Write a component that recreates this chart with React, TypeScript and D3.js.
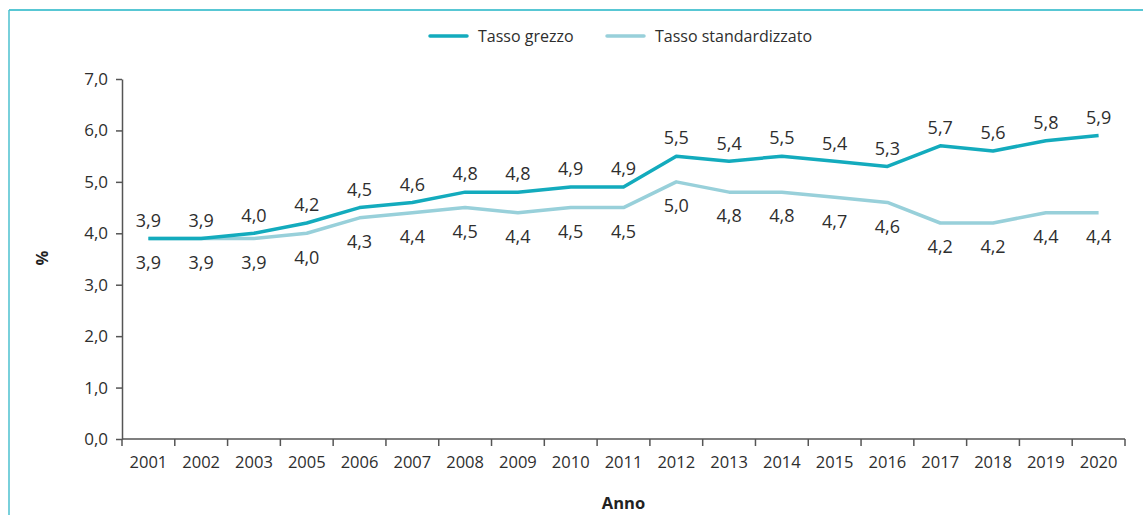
import React, { useEffect, useRef } from "react";
import * as d3 from "d3";

const years = ["2001", "2002", "2003", "2005", "2006", "2007", "2008", "2009", "2010", "2011", "2012", "2013", "2014", "2015", "2016", "2017", "2018", "2019", "2020"];
const tassoGrezzo = [3.9, 3.9, 4.0, 4.2, 4.5, 4.6, 4.8, 4.8, 4.9, 4.9, 5.5, 5.4, 5.5, 5.4, 5.3, 5.7, 5.6, 5.8, 5.9];
const tassoStandard = [3.9, 3.9, 3.9, 4.0, 4.3, 4.4, 4.5, 4.4, 4.5, 4.5, 5.0, 4.8, 4.8, 4.7, 4.6, 4.2, 4.2, 4.4, 4.4];
const yTicks = [0, 1, 2, 3, 4, 5, 6, 7];

const colGrezzo = "#13abbd";
const colStandard = "#98d0da";
const textCol = "#2e2e2e";
const font = "'Open Sans', sans-serif";

const fmt = (v: number) => v.toFixed(1).replace(".", ",");

export default function App() {
    const ref = useRef<SVGSVGElement>(null);

    useEffect(() => {
        const W = 1143, H = 515;
        const margin = { top: 79, right: 18, bottom: 76, left: 122 };
        const svg = d3.select(ref.current);
        svg.selectAll("*").remove();

        // frame (top + left only)
        svg.append("line").attr("x1", 9).attr("x2", W).attr("y1", 10).attr("y2", 10)
            .attr("stroke", "#20b4c6").attr("stroke-width", 1.5);
        svg.append("line").attr("x1", 9).attr("x2", 9).attr("y1", 10).attr("y2", H)
            .attr("stroke", "#4cc0cf").attr("stroke-width", 1.5);

        const x = d3.scaleBand<string>()
            .domain(years)
            .range([margin.left, W - margin.right])
            .padding(0);
        const y = d3.scaleLinear()
            .domain([0, 7])
            .range([H - margin.bottom, margin.top]);

        // Y axis
        const yAxis = svg.append("g")
            .attr("transform", "translate(" + margin.left + ",0)")
            .call(d3.axisLeft(y).tickValues(yTicks).tickFormat((d: any) => fmt(+d)).tickSize(6).tickSizeOuter(0));
        yAxis.selectAll("path, line").attr("stroke", "#555").attr("stroke-width", 1.5);
        yAxis.selectAll("text").attr("font-family", font).attr("font-size", 17)
            .attr("fill", textCol).attr("x", -14);

        // X axis: ticks at band boundaries
        const y0 = y(0);
        const xAxis = svg.append("g");
        xAxis.append("line").attr("x1", margin.left).attr("x2", W - margin.right)
            .attr("y1", y0).attr("y2", y0).attr("stroke", "#555").attr("stroke-width", 1.5);
        const bounds = years.map((yr) => x(yr) as number).concat([x(years[years.length - 1])! + x.bandwidth()]);
        xAxis.selectAll("line.tick").data(bounds).enter().append("line")
            .attr("class", "tick")
            .attr("x1", (d) => d).attr("x2", (d) => d)
            .attr("y1", y0).attr("y2", y0 + 7)
            .attr("stroke", "#555").attr("stroke-width", 1.5);
        xAxis.selectAll("text").data(years).enter().append("text")
            .attr("x", (d) => x(d)! + x.bandwidth() / 2)
            .attr("y", y0 + 29)
            .attr("text-anchor", "middle")
            .attr("font-family", font).attr("font-size", 16.5).attr("fill", textCol)
            .text((d) => d);

        // axis titles
        svg.append("text").attr("x", (margin.left + W - margin.right) / 2).attr("y", 509)
            .attr("text-anchor", "middle").attr("font-family", font).attr("font-weight", "bold")
            .attr("font-size", 16.5).attr("fill", "#222").text("Anno");
        svg.append("text").attr("transform", "translate(48,258) rotate(-90)")
            .attr("text-anchor", "middle").attr("font-family", font).attr("font-weight", "bold")
            .attr("font-size", 16.5).attr("fill", "#222").text("%");

        // lines
        const line = d3.line<number>()
            .x((_, i) => x(years[i])! + x.bandwidth() / 2)
            .y((d) => y(d));
        svg.append("path").datum(tassoStandard).attr("d", line).attr("fill", "none")
            .attr("stroke", colStandard).attr("stroke-width", 3.5).attr("stroke-linejoin", "round");
        svg.append("path").datum(tassoGrezzo).attr("d", line).attr("fill", "none")
            .attr("stroke", colGrezzo).attr("stroke-width", 3.5).attr("stroke-linejoin", "round");

        // data labels
        svg.selectAll("text.lab-g").data(tassoGrezzo).enter().append("text")
            .attr("class", "lab-g")
            .attr("x", (_, i) => x(years[i])! + x.bandwidth() / 2)
            .attr("y", (d) => y(d) - 18)
            .attr("dy", "0.35em")
            .attr("text-anchor", "middle").attr("font-family", font).attr("font-size", 18)
            .attr("fill", textCol).text((d) => fmt(d));
        svg.selectAll("text.lab-s").data(tassoStandard).enter().append("text")
            .attr("class", "lab-s")
            .attr("x", (_, i) => x(years[i])! + x.bandwidth() / 2)
            .attr("y", (d) => y(d) + 24)
            .attr("dy", "0.35em")
            .attr("text-anchor", "middle").attr("font-family", font).attr("font-size", 18)
            .attr("fill", textCol).text((d) => fmt(d));

        // legend
        const legend = [
            { name: "Tasso grezzo", color: colGrezzo, x: 430 },
            { name: "Tasso standardizzato", color: colStandard, x: 607 },
        ];
        const lg = svg.selectAll("g.legend").data(legend).enter().append("g")
            .attr("class", "legend")
            .attr("transform", (d) => "translate(" + d.x + ",36)");
        lg.append("line").attr("x1", 0).attr("x2", 37).attr("y1", 0).attr("y2", 0)
            .attr("stroke", (d) => d.color).attr("stroke-width", 3.5).attr("stroke-linecap", "round");
        lg.append("text").attr("x", 48).attr("dy", "0.35em")
            .attr("font-family", font).attr("font-size", 16).attr("fill", textCol)
            .text((d) => d.name);
    }, []);

    return (
        <div style={{ position: "absolute", left: 0, top: 0 }}>
            <svg ref={ref} width={1143} height={515} style={{ display: "block", background: "#fff" }} />
        </div>
    );
}
